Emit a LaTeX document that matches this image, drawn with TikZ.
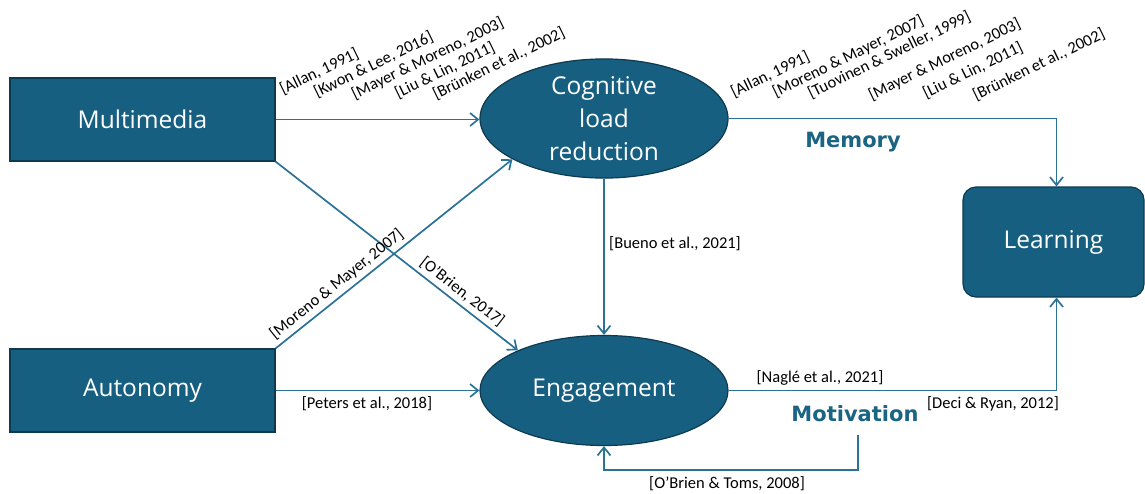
\documentclass[tikz,border=0pt]{standalone}
\usepackage{fontspec}
\setmainfont{Carlito}
\newfontfamily\nodefont{Open Sans}
\newfontfamily\themefont{DejaVu Sans}
\usetikzlibrary{shapes.geometric,arrows.meta,positioning}
\definecolor{boxblue}{HTML}{175F81}
\definecolor{edgedark}{HTML}{0E3A50}
\definecolor{linkblue}{HTML}{2A7397}
\definecolor{themeblue}{HTML}{1A6484}
\begin{document}
\begin{tikzpicture}[x=1pt,y=-1pt,
    box/.style={draw=edgedark, line width=1.2pt, fill=boxblue, text=white,
      font=\nodefont\fontsize{24.5}{33}\selectfont, inner sep=0pt,
      minimum width=265pt, minimum height=83pt},
    oval/.style={box, ellipse, align=center,
      minimum width=248pt, minimum height=110pt},
    link/.style={draw=linkblue, line width=1.7pt,
      -{Straight Barb[length=8pt,width=13pt]}},
    ref/.style={font=\fontsize{16.5}{19}\selectfont, inner sep=0pt},
    cite/.style={ref, rotate=26, anchor=south west},
    theme/.style={font=\themefont\bfseries\fontsize{21}{25}\selectfont,
      text=themeblue}]
  \useasboundingbox (0,0) rectangle (1145,493);

  % Main boxes
  \node[box] (multi) at (142.5,119.5) {Multimedia};
  \node[box] (auto) at (142.5,390.5) {Autonomy};
  \node[oval] (cog) at (604,118.5) {Cognitive\\load\\reduction};
  \node[oval] (eng) at (604,390.5) {Engagement};
  \node[box, rounded corners=13pt, minimum width=181pt,
    minimum height=110pt] (learn) at (1053.5,242) {Learning};

  % Arrows into the two ovals
  \draw[link] (multi.east) -- (multi.east -| cog.west);
  \draw[link] (multi.south east) --
    node[ref, sloped, above=4pt, pos=0.74] (obrien) {[O’Brien, 2017]} (eng.155);
  \draw[link] (auto.north east) --
    node[ref, sloped, above=4pt, pos=0.29] (moreno) {[Moreno \& Mayer, 2007]} (cog.204);
  \draw[link] (auto.east) -- (eng.west);
  \draw[link] (cog.south) -- (eng.north);

  % Arrows into learning, and the feedback loop
  \draw[link] (cog.east) -| ([xshift=3pt]learn.north);
  \draw[link] (eng.east) -| ([xshift=3pt]learn.south);
  \coordinate (fbstart) at (858,435);
  \coordinate (fbturn) at (858,470);
  \draw[link] (fbstart) -- (fbturn) -| (eng.south);

  % Themes
  \node[theme] (memory) at (853,142) {Memory};
  \node[theme] (motiv) at (855,414) {Motivation};

  % Plain references
  \node[ref, anchor=west] (bueno) at (609,244) {[Bueno et al., 2021]};
  \node[ref] (peters) at (367,404) {[Peters et al., 2018]};
  \node[ref] (nagle) at (820,378) {[Naglé et al., 2021]};
  \node[ref] (deci) at (993,404) {[Deci \& Ryan, 2012]};
  \node[ref] (toms) at (727,484) {[O’Brien \& Toms, 2008]};

  % Tilted references over the multimedia arrow
  \node[cite] (mc1) at (284,97) {[Allan, 1991]};
  \node[cite] (mc2) at (318,100) {[Kwon \& Lee, 2016]};
  \node[cite] (mc3) at (356,102) {[Mayer \& Moreno, 2003]};
  \node[cite] (mc4) at (399,101) {[Liu \& Lin, 2011]};
  \node[cite] (mc5) at (437,102) {[Brünken et al., 2002]};

  % Tilted references over the memory arrow
  \node[cite] (rc1) at (735,100) {[Allan, 1991]};
  \node[cite] (rc2) at (777,100) {[Moreno \& Mayer, 2007]};
  \node[cite] (rc3) at (812,101) {[Tuovinen \& Sweller, 1999]};
  \node[cite] (rc4) at (873,103) {[Mayer \& Moreno, 2003]};
  \node[cite] (rc5) at (927,101) {[Liu \& Lin, 2011]};
  \node[cite] (rc6) at (977,103) {[Brünken et al., 2002]};
\end{tikzpicture}
\end{document}
